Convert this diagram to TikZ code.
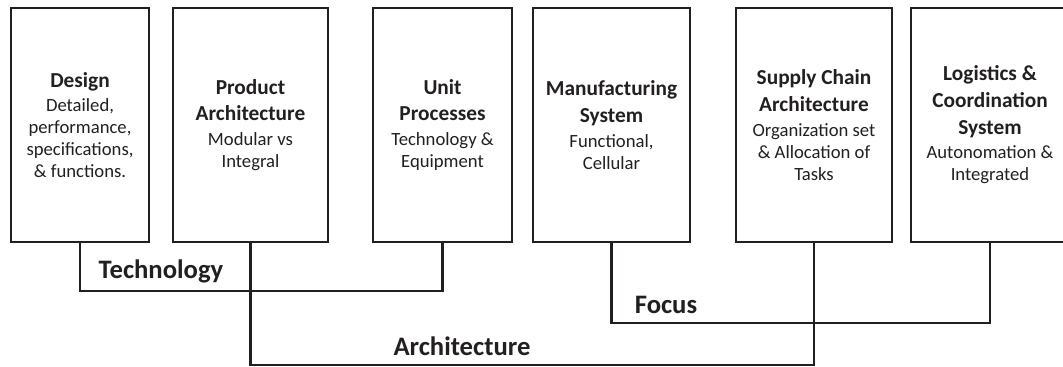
\documentclass[tikz,border=0pt]{standalone}
\usepackage{fontspec}
\setmainfont{Carlito}
\usepackage{tikz}
\usetikzlibrary{positioning}
\definecolor{ink}{HTML}{231F20}
\newcommand{\stagetitle}[1]{{\fontsize{16}{20}\selectfont\bfseries #1}}
\tikzset{
  stage/.style={draw=ink, line width=1.2pt, rectangle, align=center, text=ink,
    minimum height=175.5pt, inner sep=2pt, outer sep=0pt,
    font=\fontsize{14}{16.5}\selectfont},
  link/.style={draw=ink, line width=2pt},
  grouplabel/.style={text=ink, anchor=base, inner sep=0pt,
    font=\fontsize{20}{24}\selectfont\bfseries}
}

\begin{document}
\begin{tikzpicture}[x=0.75pt, y=-0.75pt]
\path[use as bounding box, clip] (0,0) rectangle (1063,367);

% stages
\node[stage, minimum width=103.5pt] (design)   at (80,125)    {\stagetitle{Design}\\[2pt]Detailed,\\performance,\\specifications,\\\& functions.};
\node[stage, minimum width=116.25pt] (prodarch) at (250.5,125) {\stagetitle{Product}\\[3.5pt]\stagetitle{Architecture}\\[2pt]Modular vs\\Integral};
\node[stage, minimum width=104.25pt] (unitproc) at (442.5,125) {\stagetitle{Unit}\\[3.5pt]\stagetitle{Processes}\\[2pt]Technology \&\\Equipment};
\node[stage, minimum width=117.75pt] (mfgsys)   at (611.5,125) {\stagetitle{Manufacturing}\\[3.5pt]\stagetitle{System}\\[2pt]Functional,\\Cellular};
\node[stage, minimum width=117pt] (scarch)   at (814,125)   {\stagetitle{Supply Chain}\\[3.5pt]\stagetitle{Architecture}\\[2pt]Organization set\\\& Allocation of\\Tasks};
\node[stage, minimum width=118.5pt] (logsys)   at (990,125) {\stagetitle{Logistics \&}\\[3.5pt]\stagetitle{Coordination}\\[3.5pt]\stagetitle{System}\\[2pt]Autonomation \&\\Integrated};

% brackets
\coordinate (techbar) at (250,291);
\coordinate (focusbar) at (800,323);
\coordinate (archbar) at (500,365);

\draw[link] (design.south) |- (techbar) -| (unitproc.south);
\draw[link] (prodarch.south) |- (archbar) -| (scarch.south);
\draw[link] (mfgsys.south) |- (focusbar) -| (logsys.south);

\node[grouplabel] (techlbl)  at (161,278) {Technology};
\node[grouplabel] (focuslbl) at (666,313) {Focus};
\node[grouplabel] (archlbl)  at (462,355) {Architecture};
\end{tikzpicture}
\end{document}
